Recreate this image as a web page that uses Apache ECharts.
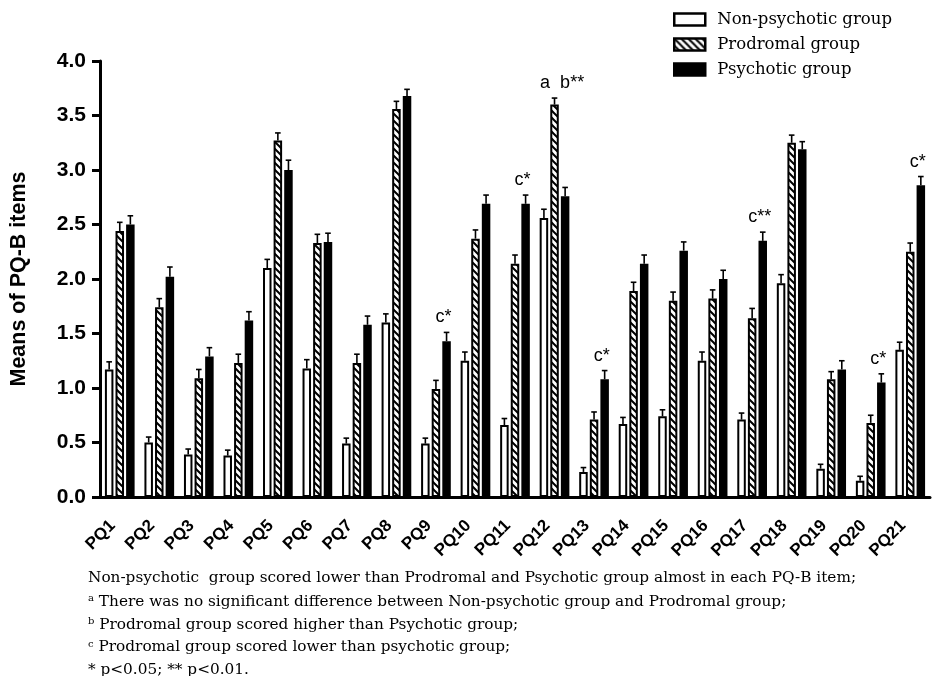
<!DOCTYPE html>
<html><head><meta charset="utf-8">
<script src="https://cdn.jsdelivr.net/npm/echarts@6/dist/echarts.min.js"></script>
<style>html,body{margin:0;padding:0;background:#fff}#c{width:933px;height:676px}</style>
</head><body><div id="c"></div>
<script>
const categories = ['PQ1','PQ2','PQ3','PQ4','PQ5','PQ6','PQ7','PQ8','PQ9','PQ10','PQ11','PQ12','PQ13','PQ14','PQ15','PQ16','PQ17','PQ18','PQ19','PQ20','PQ21'];
const seriesNames = ['Non-psychotic group','Prodromal group','Psychotic group'];
const nonPsychotic    = [1.17,0.50,0.39,0.38,2.10,1.18,0.49,1.60,0.49,1.25,0.66,2.56,0.23,0.67,0.74,1.25,0.71,1.96,0.26,0.15,1.35];
const nonPsychoticErr = [0.07,0.05,0.05,0.05,0.08,0.08,0.05,0.08,0.05,0.08,0.06,0.08,0.04,0.06,0.06,0.08,0.06,0.08,0.04,0.04,0.07];
const prodromal       = [2.44,1.74,1.09,1.23,3.27,2.33,1.23,3.56,0.99,2.37,2.14,3.60,0.71,1.89,1.80,1.82,1.64,3.25,1.08,0.68,2.25];
const prodromalErr    = [0.08,0.08,0.08,0.08,0.07,0.08,0.08,0.07,0.08,0.08,0.08,0.06,0.07,0.08,0.08,0.08,0.09,0.07,0.07,0.07,0.08];
const psychotic       = [2.50,2.02,1.29,1.62,3.00,2.34,1.58,3.68,1.43,2.69,2.69,2.76,1.08,2.14,2.26,2.00,2.35,3.19,1.17,1.05,2.86];
const psychoticErr    = [0.08,0.09,0.08,0.08,0.09,0.08,0.08,0.06,0.08,0.08,0.08,0.08,0.08,0.08,0.08,0.08,0.08,0.07,0.08,0.08,0.08];
const yTicks = [0,0.5,1,1.5,2,2.5,3,3.5,4];
// annotations: [category index, text]
const annotations = [[8,'c*'],[10,'c*'],[11,'a  b**'],[12,'c*'],[16,'c**'],[19,'c*'],[20,'c*']];
const footnotes = [
  'Non-psychotic  group scored lower than Prodromal and Psychotic group almost in each PQ-B item;',
  '{sup|a} There was no significant difference between Non-psychotic group and Prodromal group;',
  '{sup|b} Prodromal group scored higher than Psychotic group;',
  '{sup|c} Prodromal group scored lower than psychotic group;',
  '* p<0.05; ** p<0.01.'
];

// styling constants
const BAR_W = 8.5, BAR_GAP = 2.1, STEP = BAR_W + BAR_GAP;
const offsets = [-STEP, 0, STEP];

function hatch(){
  const s = 7, c = document.createElement('canvas');
  c.width = s; c.height = s;
  const g = c.getContext('2d');
  g.fillStyle = '#fff'; g.fillRect(0,0,s,s);
  g.strokeStyle = '#000'; g.lineWidth = 2;
  g.beginPath();
  g.moveTo(-1,-1); g.lineTo(s+1,s+1);
  g.moveTo(s-1,-1); g.lineTo(s+1,1);
  g.moveTo(-1,s-1); g.lineTo(1,s+1);
  g.stroke();
  return c;
}
const values = [nonPsychotic, prodromal, psychotic];
const errs = [nonPsychoticErr, prodromalErr, psychoticErr];
const fills = ['#fff', {image: hatch(), repeat: 'repeat'}, '#000'];

const chart = echarts.init(document.getElementById('c'));
const series = [];
values.forEach((vals, k) => {
  series.push({
    name: seriesNames[k], type: 'bar', data: vals,
    barWidth: BAR_W, barGap: (BAR_GAP / BAR_W * 100) + '%',
    itemStyle: {color: fills[k], borderColor: '#000', borderWidth: k === 2 ? 0 : 2},
    emphasis: {disabled: true}, z: 2
  });
});
values.forEach((vals, k) => {
  series.push({
    type: 'custom', silent: true, z: 3,
    data: vals.map((v, i) => [i, v, v + errs[k][i]]),
    renderItem: (params, api) => {
      const b = api.coord([api.value(0), api.value(1)]);
      const t = api.coord([api.value(0), api.value(2)]);
      const x = b[0] + offsets[k];
      return {type: 'group', children: [
        {type: 'line', shape: {x1: x, y1: b[1], x2: x, y2: t[1]}, style: {stroke: '#000', lineWidth: 1.6}},
        {type: 'line', shape: {x1: x - 2.8, y1: t[1], x2: x + 2.8, y2: t[1]}, style: {stroke: '#000', lineWidth: 1.6}}
      ]};
    }
  });
});
series.push({
  type: 'custom', silent: true, z: 4,
  data: annotations.map(a => {
    const i = a[0];
    const top = Math.max(...values.map((vals, k) => vals[i] + errs[k][i]));
    return [i, top, a[1]];
  }),
  renderItem: (params, api) => {
    const p = api.coord([api.value(0), api.value(1)]);
    return {type: 'text', x: p[0] + offsets[2] - 3, y: p[1] - 6,
      style: {text: api.value(2), fill: '#000', font: '18px "Liberation Sans", Arial, sans-serif',
        align: 'center', verticalAlign: 'bottom'}};
  }
});

chart.setOption({
  animation: false,
  backgroundColor: '#fff',
  grid: {left: 97, right: 3, top: 61, bottom: 179},
  legend: {
    data: seriesNames, orient: 'vertical', left: 668, top: 6,
    itemWidth: 31, itemHeight: 12, itemGap: 8, icon: 'rect',
    itemStyle: {borderColor: '#000', borderWidth: 2.5},
    textStyle: {fontFamily: '"DejaVu Serif", serif', fontSize: 16.5, color: '#000', padding: [0,0,0,7], lineHeight: 16},
    selectedMode: false
  },
  xAxis: {
    type: 'category', data: categories,
    axisLine: {lineStyle: {color: '#000', width: 3}},
    axisTick: {alignWithLabel: true, length: 8, lineStyle: {color: '#000', width: 3}},
    axisLabel: {rotate: 45, margin: 19, padding: [0, 10, 0, 0], color: '#000', fontWeight: 'bold', fontSize: 17,
      fontFamily: '"Liberation Sans", Arial, sans-serif', interval: 0}
  },
  yAxis: {
    type: 'value', min: 0, max: 4, interval: 0.5,
    name: 'Means of PQ-B items', nameLocation: 'middle', nameGap: 70, nameRotate: 90,
    nameTextStyle: {fontWeight: 'bold', fontSize: 21.5, color: '#000', fontFamily: '"Liberation Sans", Arial, sans-serif'},
    axisLine: {show: true, lineStyle: {color: '#000', width: 3}},
    axisTick: {show: true, length: 8, lineStyle: {color: '#000', width: 3}},
    splitLine: {show: false},
    axisLabel: {margin: 14, color: '#000', fontWeight: 'bold', fontSize: 21, fontFamily: '"Liberation Sans", Arial, sans-serif',
      formatter: v => yTicks.includes(v) ? v.toFixed(1) : ''}
  },
  graphic: footnotes.map((t, i) => ({
    type: 'text', left: 88, top: 571 + i * 22.8,
    style: {text: t, fill: '#000', font: '15.3px "DejaVu Serif", serif',
      rich: {sup: {fontSize: 10, fontFamily: '"DejaVu Serif", serif', verticalAlign: 'top', padding: [0,0,6,0]}}}
  })),
  series: series
});
</script></body></html>
